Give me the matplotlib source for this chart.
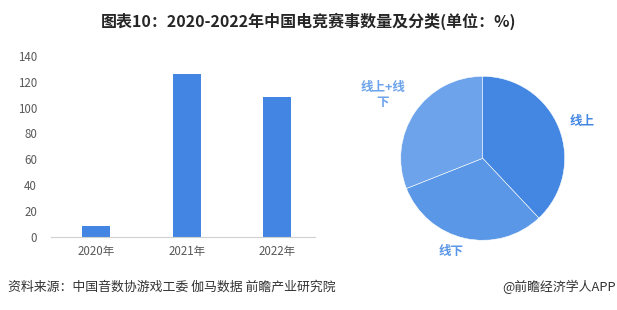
import numpy as np
import matplotlib
matplotlib.use("Agg")
import matplotlib.pyplot as plt

plt.rcParams['font.family'] = ['Noto Sans CJK SC', 'DejaVu Sans']

years = ['2020年', '2021年', '2022年']
counts = [8, 126, 108]

kinds = ['线上', '线下', '线上+线\n下']
shares = [38, 31, 31]
pie_colors = ['#4487E2', '#5A97E6', '#6CA3EA']

W, H = 617, 310
fig = plt.figure(figsize=(W / 100, H / 100), dpi=100)

fig.text(0.5, 1 - 21 / H, '图表10：2020-2022年中国电竞赛事数量及分类(单位：%)',
         ha='center', va='center', fontsize=11.5, fontweight='bold', color='#262626')

# bar chart
ax = fig.add_axes([51 / W, 1 - 236.7 / H, 264 / W, 180.7 / H])
x = np.arange(len(years))
ax.bar(x, counts, width=0.31, color='#4285E3')
ax.set_xlim(-0.5, 2.42)
ax.set_ylim(0, 140)
ax.set_yticks(np.arange(0, 141, 20))
ax.set_xticks(x)
ax.set_xticklabels(years)
for s in ['top', 'right', 'left']:
    ax.spines[s].set_visible(False)
ax.spines['bottom'].set_color('#d0d0d0')
ax.tick_params(length=0, labelsize=8.3, colors='#595959')
ax.tick_params(axis='x', pad=6)
ax.tick_params(axis='y', pad=10)

# pie chart
r = 82
cx, cy = 482.7, 158.3
pax = fig.add_axes([(cx - r) / W, 1 - (cy + r) / H, 2 * r / W, 2 * r / H])
wedges, texts = pax.pie(shares, labels=kinds, colors=pie_colors, startangle=90,
                        counterclock=False, labeldistance=1.25,
                        wedgeprops=dict(edgecolor='#ffffff', linewidth=0.4))
label_pos = [(1.21, 0.45), (-0.38, -1.14), (-1.22, 0.77)]
for t, c, p in zip(texts, pie_colors, label_pos):
    t.set_color(c)
    t.set_fontweight('bold')
    t.set_fontsize(9)
    t.set_ha('center')
    t.set_va('center')
    t.set_position(p)
pax.set_xlim(-1, 1)
pax.set_ylim(-1, 1)
pax.set_aspect('equal')

fig.text(8 / W, 1 - 287 / H, '资料来源：中国音数协游戏工委 伽马数据 前瞻产业研究院',
         ha='left', va='center', fontsize=9.3, color='#333333')
fig.text(1 - 1 / W, 1 - 287 / H, '@前瞻经济学人APP',
         ha='right', va='center', fontsize=9.3, color='#333333')

fig.savefig('out.png', dpi=100)
